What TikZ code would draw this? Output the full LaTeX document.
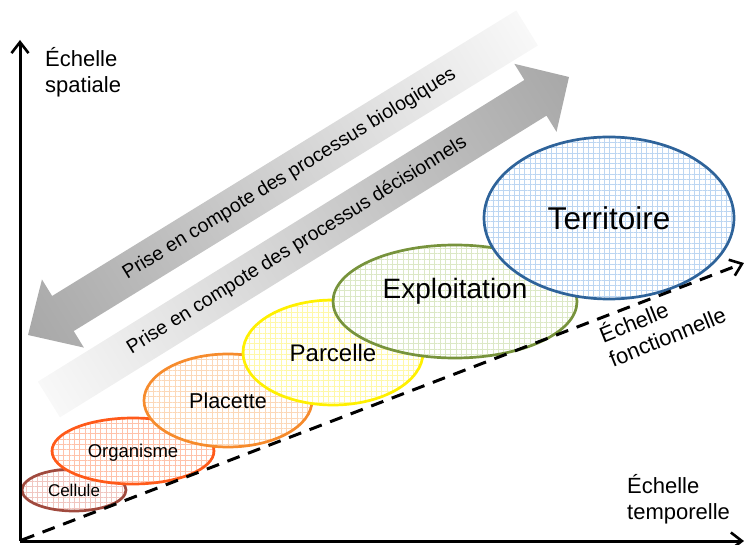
\documentclass[tikz,border=0pt]{standalone}
\usepackage{fontspec}
\setmainfont{Liberation Sans}
\usetikzlibrary{arrows.meta,shapes.geometric,patterns.meta}
\definecolor{celD}{HTML}{A04A3E}
\definecolor{celL}{HTML}{F0C6C0}
\definecolor{orgD}{HTML}{FF5A1A}
\definecolor{orgL}{HTML}{FFC2AA}
\definecolor{plaD}{HTML}{F68B2C}
\definecolor{plaL}{HTML}{FCD8B8}
\definecolor{parD}{HTML}{FFF000}
\definecolor{parL}{HTML}{FFF8A8}
\definecolor{expD}{HTML}{77933C}
\definecolor{expL}{HTML}{DCE8C6}
\definecolor{terD}{HTML}{2E639A}
\definecolor{terL}{HTML}{BCD6F2}
\definecolor{arrDark}{HTML}{A8A8A8}
\definecolor{arrMid}{HTML}{CFCFCF}
\definecolor{arrLight}{HTML}{F8F8F8}
\begin{document}
\begin{tikzpicture}[x=1pt,y=-1pt,
  ell/.style={ellipse, inner sep=0pt, line width=2.7pt, preaction={fill=white},
    pattern={Hatch[distance=5.3pt,line width=0.55pt]}},
  axis/.style={line width=3pt, -{Straight Barb[length=11pt,width=17pt,line width=2.6pt]}},
  axlab/.style={align=left, inner sep=0pt, font=\fontsize{22}{26}\selectfont},
  proc/.style={inner sep=0pt, font=\fontsize{19.5}{23}\selectfont}]
\useasboundingbox (0,0) rectangle (744,545);

% big shaded arrows
\begin{scope}[transform canvas={shift={(28,335)},rotate=31.6}]
  \shade[left color=arrDark, middle color=arrMid, right color=arrLight]
    (0,0) -- (41,-40) -- (41,-20.6) -- (586,-20.6) -- (586,20.6) -- (41,20.6) -- (41,40) -- cycle;
\end{scope}
\begin{scope}[transform canvas={shift={(569,77)},rotate=31.8}]
  \shade[left color=arrLight, middle color=arrMid!85!arrDark, right color=arrDark]
    (0,0) -- (-39.5,40) -- (-39.5,21) -- (-612,21) -- (-612,-21) -- (-39.5,-21) -- (-39.5,-40) -- cycle;
\end{scope}
\node[proc, rotate=31.6] (bio) at (289.6,174.1) {Prise en compote des processus biologiques};
\node[proc, rotate=31.8] (dec) at (297.1,245.6) {Prise en compote des processus décisionnels};

% ellipses
\node[ell, draw=celD, pattern color=celL, minimum width=104pt, minimum height=42pt,
  font=\fontsize{17}{20}\selectfont] (cel) at (74,490) {Cellule};
\node[ell, draw=orgD, pattern color=orgL, minimum width=162pt, minimum height=66pt,
  font=\fontsize{18.5}{22}\selectfont, text depth=0pt] (org) at (133,451) {Organisme};
\node[ell, draw=plaD, pattern color=plaL, minimum width=168pt, minimum height=93pt,
  font=\fontsize{21.5}{25}\selectfont] (pla) at (228,400.5) {Placette};
\node[ell, draw=parD, pattern color=parL, minimum width=180pt, minimum height=105pt,
  font=\fontsize{24}{28}\selectfont] (par) at (333,352.5) {Parcelle};
\node[ell, draw=expD, pattern color=expL, minimum width=244pt, minimum height=113pt,
  font=\fontsize{28}{32}\selectfont, text depth=27pt] (exp) at (455,301.5) {Exploitation};
\node[ell, draw=terD, pattern color=terL, minimum width=250pt, minimum height=162pt,
  font=\fontsize{31.5}{36}\selectfont] (ter) at (609,218) {Territoire};

% dashed functional axis
\coordinate (fs) at (22,540);
\coordinate (fe) at (744,263);
\draw[line width=3pt, dash pattern=on 13pt off 9pt,
  -{Straight Barb[length=11pt,width=17pt,line width=2.6pt]}] (fs) -- (fe);
\node[axlab, rotate=22, anchor=base west] (fon) at (613,367.4) {Échelle\\fonctionnelle};

% axes
\coordinate (o) at (20,541);
\coordinate (ytop) at (20,40);
\coordinate (xend) at (744,541);
\draw[axis] (o) -- (ytop);
\draw[axis] (o) -- (xend);
\node[axlab, anchor=base west] (spa) at (45,92.7) {Échelle\\spatiale};
\node[axlab, anchor=base west] (tem) at (627,519) {Échelle\\temporelle};
\end{tikzpicture}
\end{document}
